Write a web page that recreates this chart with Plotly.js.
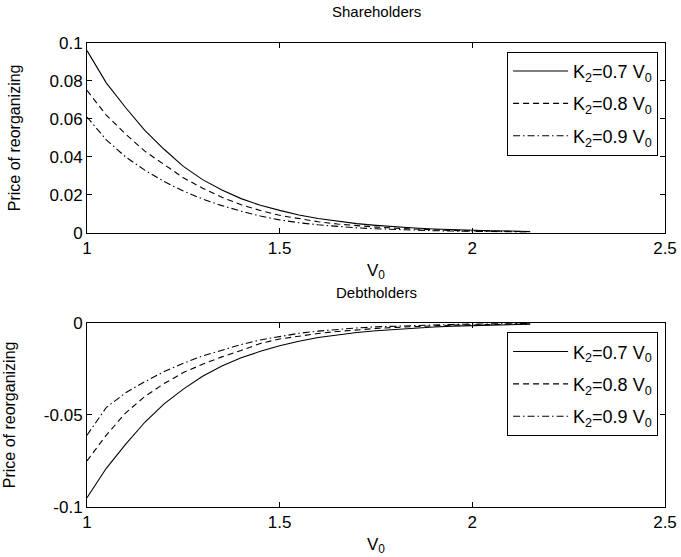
<!DOCTYPE html>
<html>
<head>
<meta charset="utf-8">
<script src="https://cdn.plot.ly/plotly-3.0.1.min.js"></script>
<style>html,body{margin:0;padding:0;background:#fff;}#chart{width:681px;height:557px;}</style>
</head>
<body>
<div id="chart"></div>
<script>
const V0 = [1.00,1.05,1.10,1.15,1.20,1.25,1.30,1.35,1.40,1.45,1.50,1.55,1.60,1.65,1.70,1.75,1.80,1.85,1.90,1.95,2.00,2.05,2.10,2.15];
const share07 = [0.096,0.079,0.066,0.054,0.044,0.035,0.028,0.0225,0.018,0.0145,0.0118,0.0094,0.0075,0.006,0.0048,0.0039,0.0031,0.0025,0.002,0.0016,0.0013,0.0011,0.0009,0.0007];
const share08 = [0.075,0.062,0.052,0.043,0.036,0.029,0.0235,0.0187,0.0148,0.0117,0.0092,0.0073,0.0058,0.0046,0.0037,0.003,0.0024,0.0019,0.0015,0.0012,0.001,0.0008,0.0007,0.0006];
const share09 = [0.061,0.049,0.040,0.033,0.027,0.022,0.0178,0.0143,0.0114,0.0088,0.0068,0.0053,0.0042,0.0033,0.0026,0.0021,0.0017,0.0014,0.0011,0.0009,0.0007,0.0006,0.0005,0.0004];
const debt07 = [-0.095,-0.079,-0.066,-0.054,-0.044,-0.036,-0.029,-0.0235,-0.019,-0.0155,-0.0125,-0.01,-0.008,-0.0065,-0.0053,-0.0043,-0.0035,-0.0028,-0.0023,-0.0018,-0.0015,-0.0012,-0.001,-0.0008];
const debt08 = [-0.075,-0.061,-0.049,-0.040,-0.033,-0.027,-0.0225,-0.0185,-0.015,-0.0112,-0.0088,-0.0072,-0.0058,-0.0047,-0.0038,-0.0031,-0.0025,-0.002,-0.0016,-0.0013,-0.0011,-0.0009,-0.0007,-0.0006];
const debt09 = [-0.061,-0.046,-0.038,-0.032,-0.0265,-0.022,-0.018,-0.0147,-0.0118,-0.0093,-0.0073,-0.0057,-0.0045,-0.0035,-0.0028,-0.0022,-0.0018,-0.0014,-0.0011,-0.0009,-0.0007,-0.0006,-0.0005,-0.0004];
const seriesNames = ['K<sub>2</sub>=0.7 V<sub>0</sub>','K<sub>2</sub>=0.8 V<sub>0</sub>','K<sub>2</sub>=0.9 V<sub>0</sub>'];
const xTickVals = [1,1.5,2,2.5];
const xTickText = ['1','1.5','2','2.5'];
const yTopVals = [0,0.02,0.04,0.06,0.08,0.1];
const yTopText = ['0','0.02','0.04','0.06','0.08','0.1'];
const yBotVals = [-0.1,-0.05,0];
const yBotText = ['-0.1','-0.05','0'];
const titles = ['Shareholders','Debtholders'];

const FONT = 'Liberation Sans, Arial, sans-serif';
const dashes = ['solid','6px,4px','7px,3px,1.5px,3px'];
const topSeries = [share07, share08, share09];
const botSeries = [debt07, debt08, debt09];

const traces = [];
topSeries.forEach((s,i)=>traces.push({x:V0,y:s,type:'scatter',mode:'lines',name:seriesNames[i],legendgroup:'t'+i,
  line:{color:'#000',width:1.1,dash:dashes[i]},xaxis:'x',yaxis:'y',legend:'legend'}));
botSeries.forEach((s,i)=>traces.push({x:V0,y:s,type:'scatter',mode:'lines',name:seriesNames[i],legendgroup:'b'+i,
  line:{color:'#000',width:1.1,dash:dashes[i]},xaxis:'x2',yaxis:'y2',legend:'legend2'}));

const axBase = {showline:true,linecolor:'#000',linewidth:1,mirror:'ticks',ticks:'inside',ticklen:5,tickcolor:'#000',
  showgrid:false,zeroline:false,tickfont:{family:FONT,size:17,color:'#000'},tickmode:'array'};
const xTitle = {text:'V<sub>0</sub>',font:{family:FONT,size:17,color:'#000'},standoff:6};
const yTitle = {text:'Price of reorganizing',font:{family:FONT,size:16,color:'#000'},standoff:24};
const legBase = {xref:'paper',yref:'paper',xanchor:'right',yanchor:'top',bgcolor:'#fff',bordercolor:'#000',borderwidth:1,
  font:{family:FONT,size:18,color:'#000'},tracegroupgap:6,itemwidth:55};

const layout = {
  width:681,height:557,paper_bgcolor:'#fff',plot_bgcolor:'#fff',
  margin:{l:87,r:16,t:43,b:50},
  showlegend:true,
  xaxis:Object.assign({},axBase,{domain:[0,1],range:[1,2.5],tickvals:xTickVals,ticktext:xTickText,anchor:'y',title:xTitle}),
  yaxis:Object.assign({},axBase,{domain:[0.591,1],range:[0,0.1],tickvals:yTopVals,ticktext:yTopText,anchor:'x',title:yTitle}),
  xaxis2:Object.assign({},axBase,{domain:[0,1],range:[1,2.5],tickvals:xTickVals,ticktext:xTickText,anchor:'y2',title:xTitle}),
  yaxis2:Object.assign({},axBase,{domain:[0,0.397],range:[-0.1,0],tickvals:yBotVals,ticktext:yBotText,anchor:'x2',title:yTitle}),
  legend:Object.assign({},legBase,{x:0.988,y:0.981}),
  legend2:Object.assign({},legBase,{x:0.988,y:0.3765}),
  annotations:[
    {text:titles[0],xref:'x domain',yref:'y domain',x:0.5,y:1,yanchor:'bottom',yshift:21,showarrow:false,font:{family:FONT,size:15,color:'#000'}},
    {text:titles[1],xref:'x2 domain',yref:'y2 domain',x:0.5,y:1,yanchor:'bottom',yshift:20,showarrow:false,font:{family:FONT,size:15,color:'#000'}}
  ]
};
Plotly.newPlot('chart',traces,layout,{displayModeBar:false,staticPlot:true}).then(function(gd){
  // lengthen legend line samples to span the wider item area (MATLAB style)
  gd.querySelectorAll('.legendlines path').forEach(function(p){ p.setAttribute('d','M5,0h55'); });
});
</script>
</body>
</html>
